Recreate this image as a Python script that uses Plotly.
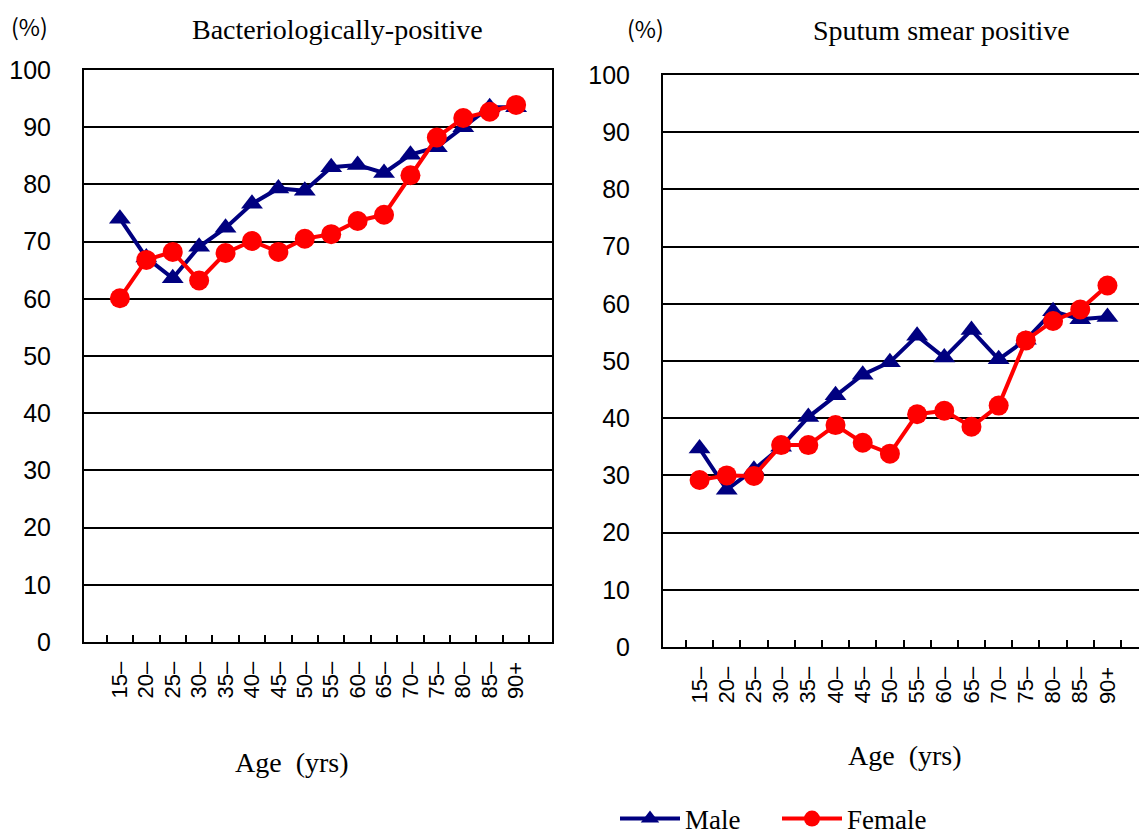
import plotly.graph_objects as go

ages = ["15–", "20–", "25–", "30–", "35–", "40–", "45–", "50–", "55–", "60–",
        "65–", "70–", "75–", "80–", "85–", "90+"]

bact_male = [74.0, 67.2, 63.6, 69.1, 72.4, 76.6, 79.3, 78.9, 83.0, 83.4,
             82.0, 85.2, 86.5, 90.0, 93.5, 93.5]
bact_female = [60.1, 66.8, 68.2, 63.2, 68.0, 70.1, 68.2, 70.5, 71.3, 73.6,
               74.7, 81.6, 88.2, 91.6, 92.7, 93.9]
smear_male = [34.7, 27.5, 31.0, 35.0, 40.2, 44.0, 47.6, 49.8, 54.4, 50.6,
              55.4, 50.3, 53.7, 58.7, 57.3, 57.7]
smear_female = [29.2, 30.0, 29.9, 35.3, 35.3, 38.8, 35.7, 33.8, 40.7, 41.3,
                38.5, 42.2, 53.6, 57.0, 59.0, 63.2]

y_ticks = [0, 10, 20, 30, 40, 50, 60, 70, 80, 90, 100]

MALE_C = "#000080"
FEMALE_C = "#FF0000"
OFF = 8                      # page body margin
W, H = 1147 - OFF, 838 - OFF


def px(x):
    return (x - OFF) / W


def py(y):
    return 1 - (y - OFF) / H


fig = go.Figure()


def add_pair(xa, ya, male, female, show):
    fig.add_trace(go.Scatter(x=ages, y=male, mode="lines+markers", name="Male",
                             line=dict(color=MALE_C, width=4),
                             marker=dict(symbol="triangle-up", size=19, color=MALE_C),
                             xaxis=xa, yaxis=ya, showlegend=show))
    fig.add_trace(go.Scatter(x=ages, y=female, mode="lines+markers", name="Female",
                             line=dict(color=FEMALE_C, width=4),
                             marker=dict(symbol="circle", size=20, color=FEMALE_C),
                             xaxis=xa, yaxis=ya, showlegend=show))


add_pair("x", "y", bact_male, bact_female, False)
add_pair("x2", "y2", smear_male, smear_female, True)

sans = "Liberation Sans, Arial"
serif = "Liberation Serif, Times New Roman"


def xaxis(domain, anchor):
    return dict(domain=domain, anchor=anchor, type="category", automargin=False,
                showline=True, linecolor="black", linewidth=2, mirror=True,
                ticks="inside", ticklen=7, tickcolor="black", tickwidth=1.5,
                tickson="boundaries", tickangle=-90,
                tickfont=dict(family=sans, size=22, color="black"),
                showgrid=False, fixedrange=True, ticklabelstandoff=9)


def yaxis(domain, anchor):
    return dict(domain=domain, anchor=anchor, range=[0, 100], automargin=False,
                tickvals=y_ticks, ticktext=[str(v) for v in y_ticks],
                showline=True, linecolor="black", linewidth=2, mirror=True,
                showgrid=True, gridcolor="black", gridwidth=2,
                zeroline=False, ticks="",
                tickfont=dict(family=sans, size=25, color="black"),
                ticklabelstandoff=26)


fig.update_layout(
    width=W, height=H,
    margin=dict(l=0, r=0, t=0, b=0, autoexpand=False),
    paper_bgcolor="white", plot_bgcolor="white",
    xaxis=xaxis([px(84), px(552)], "y"),
    yaxis=yaxis([py(642), py(70)], "x"),
    xaxis2=xaxis([px(663), px(1144)], "y2"),
    yaxis2=yaxis([py(647), py(75)], "x2"),
    legend=dict(orientation="h", x=px(615), y=py(819), xanchor="left",
                yanchor="middle", font=dict(family=serif, size=27, color="black"),
                itemwidth=60, entrywidth=87, entrywidthmode="pixels",
                tracegroupgap=0, bgcolor="rgba(0,0,0,0)"),
    showlegend=True,
)

ann = [
    dict(text="(%)", x=px(29), y=py(26), font=dict(family="Noto Sans CJK JP", size=23)),
    dict(text="(%)", x=px(645), y=py(28), font=dict(family="Noto Sans CJK JP", size=23)),
    dict(text="Bacteriologically-positive", x=px(337), y=py(29),
         font=dict(family=serif, size=28)),
    dict(text="Sputum smear positive", x=px(941), y=py(31),
         font=dict(family=serif, size=28)),
    dict(text="Age\u00a0\u00a0(yrs)", x=px(292), y=py(762), font=dict(family=serif, size=28)),
    dict(text="Age\u00a0\u00a0(yrs)", x=px(905), y=py(755), font=dict(family=serif, size=28)),
]
for a in ann:
    a["font"]["color"] = "black"
    fig.add_annotation(xref="paper", yref="paper", showarrow=False,
                       xanchor="center", yanchor="middle", **a)

fig.write_html("out.html")
